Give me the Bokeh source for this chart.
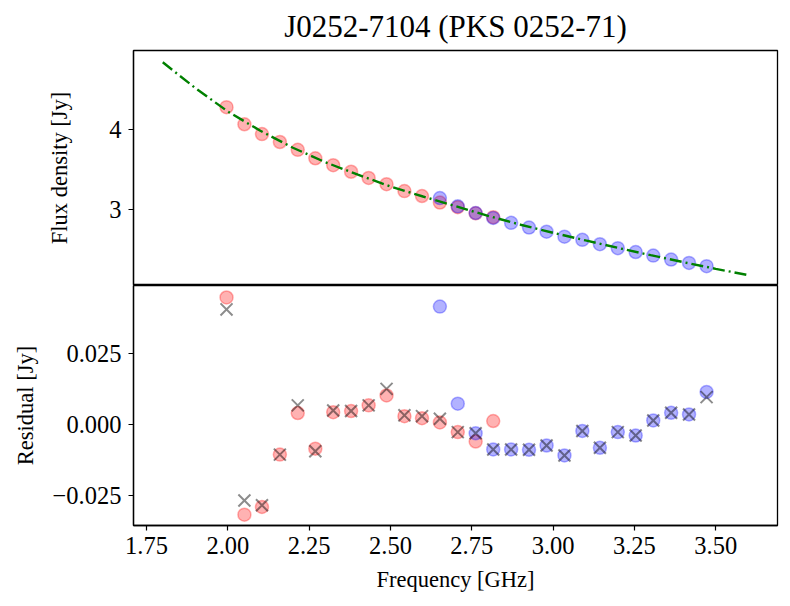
from bokeh.plotting import figure
from bokeh.layouts import column
from bokeh.models import Range1d, FixedTicker, CustomJSTickFormatter
from bokeh.embed import file_html
from bokeh.resources import INLINE

# ---- data ----
freq_red = [1.996, 2.051, 2.105, 2.160, 2.215, 2.269, 2.324, 2.379,
            2.433, 2.488, 2.543, 2.597, 2.652, 2.707, 2.762, 2.816]
flux_red = [4.273, 4.061, 3.939, 3.841, 3.744, 3.639, 3.553, 3.472,
            3.395, 3.317, 3.232, 3.171, 3.090, 3.033, 2.957, 2.909]
resid_red = [0.0447, -0.0316, -0.0289, -0.0105, 0.0041, -0.0084, 0.0044, 0.0048,
             0.0068, 0.0103, 0.0030, 0.0023, 0.0008, -0.0026, -0.0059, 0.0013]

freq_blue = [2.652, 2.707, 2.762, 2.816, 2.871, 2.926, 2.980, 3.035,
             3.090, 3.144, 3.199, 3.254, 3.308, 3.363, 3.418, 3.472]
flux_blue = [3.146, 3.043, 2.960, 2.899, 2.838, 2.780, 2.728, 2.667,
             2.627, 2.573, 2.524, 2.476, 2.432, 2.383, 2.341, 2.301]
resid_blue = [0.0415, 0.0074, -0.0030, -0.0087, -0.0087, -0.0088, -0.0073, -0.0108,
              -0.0022, -0.0081, -0.0026, -0.0038, 0.0015, 0.0042, 0.0036, 0.0115]

freq_all = [1.996, 2.051, 2.105, 2.160, 2.215, 2.269, 2.324, 2.379,
            2.433, 2.488, 2.543, 2.597, 2.652, 2.707, 2.762, 2.816,
            2.871, 2.926, 2.980, 3.035, 3.090, 3.144, 3.199, 3.254,
            3.308, 3.363, 3.418, 3.472]
resid_all = [0.0405, -0.0266, -0.0283, -0.0105, 0.0068, -0.0093, 0.0050, 0.0048,
             0.0068, 0.0126, 0.0033, 0.0030, 0.0021, -0.0026, -0.0030, -0.0087,
             -0.0087, -0.0088, -0.0073, -0.0108, -0.0022, -0.0081, -0.0026, -0.0038,
             0.0015, 0.0042, 0.0036, 0.0097]

fit_freq = [1.80, 1.90, 2.00, 2.10, 2.20, 2.30, 2.40, 2.50, 2.60, 2.70,
            2.80, 2.90, 3.00, 3.10, 3.20, 3.30, 3.40, 3.50, 3.60]
fit_flux = [4.83, 4.51, 4.22, 3.98, 3.77, 3.59, 3.435, 3.29, 3.165, 3.045,
            2.925, 2.815, 2.715, 2.62, 2.527, 2.437, 2.351, 2.268, 2.190]

x_ticks = [1.75, 2.00, 2.25, 2.50, 2.75, 3.00, 3.25, 3.50]
top_ticks = [3, 4]
bot_ticks = [-0.025, 0.0, 0.025]

title_text = "J0252-7104 (PKS 0252-71)"
FONT = "Liberation Serif"
TICK_FS = "24.5px"
LABEL_FS = "22.5px"

x_range = Range1d(1.71, 3.69)


def style(p):
    p.grid.visible = False
    p.outline_line_color = "black"
    p.outline_line_width = 1.3
    p.outline_line_alpha = 1.0
    for ax in p.axis:
        ax.axis_line_color = "black"
        ax.axis_line_width = 1.3
        ax.major_tick_in = 0
        ax.major_tick_out = 5
        ax.minor_tick_in = 0
        ax.minor_tick_out = 0
        ax.major_tick_line_width = 1.2
        ax.major_label_text_font = FONT
        ax.major_label_text_font_size = TICK_FS
        ax.major_label_text_color = "black"
        ax.axis_label_text_font = FONT
        ax.axis_label_text_font_size = LABEL_FS
        ax.axis_label_text_font_style = "normal"
        ax.axis_label_text_color = "black"


top = figure(width=782, height=285, x_range=x_range, y_range=Range1d(2.061, 4.976),
             output_backend="svg", toolbar_location=None, x_axis_location=None,
             min_border_left=133, min_border_right=5, min_border_top=46,
             min_border_bottom=0, title=title_text)
style(top)
top.title.text_font = FONT
top.title.text_font_size = "31px"
top.title.text_font_style = "normal"
top.title.align = "center"
top.title.text_color = "black"
top.title.standoff = 13
top.yaxis.ticker = FixedTicker(ticks=top_ticks, minor_ticks=[])
top.yaxis.formatter = CustomJSTickFormatter(code="return tick.toFixed(0);")
top.yaxis.axis_label = "Flux density [Jy]"
top.yaxis.major_label_standoff = 7
top.yaxis.axis_label_standoff = 34

top.scatter(freq_red, flux_red, marker="circle", size=13,
            fill_color="red", fill_alpha=0.3, line_color="red", line_alpha=0.3,
            line_width=1.5)
top.scatter(freq_blue, flux_blue, marker="circle", size=13,
            fill_color="blue", fill_alpha=0.3, line_color="blue", line_alpha=0.3,
            line_width=1.5)
top.line(fit_freq, fit_flux, line_color="green", line_width=2.4,
         line_dash="12 4 2 4")

bot = figure(width=782, height=312, x_range=x_range, y_range=Range1d(-0.0354, 0.0489),
             output_backend="svg", toolbar_location=None,
             min_border_left=133, min_border_right=5, min_border_top=0,
             min_border_bottom=72)
style(bot)
bot.xaxis.ticker = FixedTicker(ticks=x_ticks, minor_ticks=[])
bot.xaxis.formatter = CustomJSTickFormatter(code="return tick.toFixed(2);")
bot.xaxis.axis_label = "Frequency [GHz]"
bot.xaxis.major_label_standoff = 6
bot.xaxis.axis_label_standoff = 10
bot.yaxis.ticker = FixedTicker(ticks=bot_ticks, minor_ticks=[])
bot.yaxis.formatter = CustomJSTickFormatter(code="""
const v = Math.abs(tick) < 1e-9 ? 0 : tick;
const s = Math.abs(v).toFixed(3);
return v < 0 ? '\\u2212' + s : s;
""")
bot.yaxis.axis_label = "Residual [Jy]"
bot.yaxis.major_label_standoff = 7
bot.yaxis.axis_label_standoff = 12

bot.scatter(freq_red, resid_red, marker="circle", size=13,
            fill_color="red", fill_alpha=0.3, line_color="red", line_alpha=0.3,
            line_width=1.5)
bot.scatter(freq_blue, resid_blue, marker="circle", size=13,
            fill_color="blue", fill_alpha=0.3, line_color="blue", line_alpha=0.3,
            line_width=1.5)
bot.scatter(freq_all, resid_all, marker="x", size=17,
            line_color="black", line_alpha=0.45, line_width=2)

layout = column(top, bot, spacing=0)
open("out.html", "w").write(file_html(layout, INLINE))
